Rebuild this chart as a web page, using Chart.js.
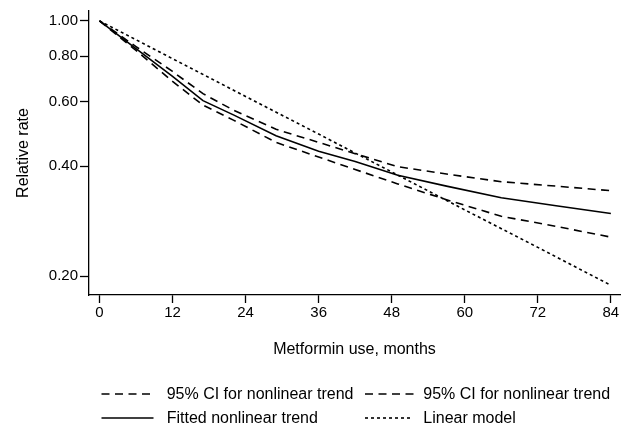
<!DOCTYPE html>
<html>
<head>
<meta charset="utf-8">
<script src="https://cdn.jsdelivr.net/npm/chart.js@4.4.1/dist/chart.umd.min.js"></script>
<style>
  html, body { margin: 0; padding: 0; background: #fff; }
  #wrap { width: 632px; height: 431px; }
</style>
</head>
<body>
<div id="wrap"><canvas id="rrChart" width="632" height="431"></canvas></div>
<script>
// values (relative rate, log scale)
const months = [0, 6, 12, 17, 22, 29, 36, 42, 49, 57, 66, 75, 84];
const fittedTrend = [1.0, 0.84, 0.705, 0.605, 0.553, 0.485, 0.44, 0.412, 0.378, 0.353, 0.328, 0.312, 0.297];
const upperCI = [1.0, 0.85, 0.727, 0.632, 0.57, 0.505, 0.465, 0.433, 0.399, 0.381, 0.363, 0.353, 0.343];
const lowerCI = [1.0, 0.83, 0.683, 0.588, 0.535, 0.465, 0.424, 0.392, 0.358, 0.324, 0.292, 0.274, 0.256];
const linearMonths = [0, 12, 24, 36, 48, 60, 72, 84];
const linearModel = [1.0, 0.788, 0.621, 0.49, 0.386, 0.304, 0.24, 0.189];

const xTicks = [0, 12, 24, 36, 48, 60, 72, 84];
const yTicks = [0.2, 0.4, 0.6, 0.8, 1.0];

const FONT = "'Liberation Sans', Arial, Helvetica, sans-serif";
const CI_DASH = [8, 5.5];
const DOT_DASH = [3, 3];

function pts(xs, ys) {
  return xs.map((x, i) => ({ x: x, y: ys[i] }));
}

// legend drawn under the axis title, two columns like the original
const legendPlugin = {
  id: 'bottomLegend',
  afterDraw(chart) {
    const ctx = chart.ctx;
    const cols = [101.5, 365];
    const rows = [394, 418];
    const lens = [52, 52, 52, 48];
    ctx.save();
    ctx.font = '16px ' + FONT;
    ctx.fillStyle = '#000';
    ctx.textBaseline = 'middle';
    chart.data.datasets.forEach((ds, k) => {
      const x = cols[k % 2];
      const y = rows[Math.floor(k / 2)];
      ctx.beginPath();
      ctx.setLineDash(ds.borderDash || []);
      ctx.lineWidth = ds.borderWidth;
      ctx.strokeStyle = ds.borderColor;
      ctx.moveTo(x, y);
      ctx.lineTo(x + lens[k], y);
      ctx.stroke();
      ctx.setLineDash([]);
      ctx.fillText(ds.label, x + (k % 2 ? 58.3 : 65.2), y + 1);
    });
    ctx.restore();
  }
};

const ctx = document.getElementById('rrChart').getContext('2d');

const rrChart = new Chart(ctx, {
  type: 'line',
  data: {
    datasets: [
      {
        label: '95% CI for nonlinear trend',
        data: pts(months, upperCI),
        borderColor: '#000',
        borderWidth: 1.6,
        borderDash: CI_DASH,
        pointRadius: 0,
        fill: false,
        tension: 0
      },
      {
        label: '95% CI for nonlinear trend',
        data: pts(months, lowerCI),
        borderColor: '#000',
        borderWidth: 1.6,
        borderDash: CI_DASH,
        pointRadius: 0,
        fill: false,
        tension: 0
      },
      {
        label: 'Fitted nonlinear trend',
        data: pts(months, fittedTrend),
        borderColor: '#000',
        borderWidth: 1.6,
        pointRadius: 0,
        fill: false,
        tension: 0
      },
      {
        label: 'Linear model',
        data: pts(linearMonths, linearModel),
        borderColor: '#000',
        borderWidth: 1.6,
        borderDash: DOT_DASH,
        pointRadius: 0,
        fill: false,
        tension: 0
      }
    ]
  },
  options: {
    responsive: false,
    animation: false,
    devicePixelRatio: 1,
    layout: {
      padding: { left: 0, top: 7, right: 12, bottom: 72 }
    },
    plugins: {
      legend: { display: false },
      tooltip: { enabled: false }
    },
    scales: {
      x: {
        type: 'linear',
        min: -1.72,
        max: 85.5,
        afterBuildTicks: (scale) => {
          scale.ticks = xTicks.map(v => ({ value: v }));
        },
        afterFit: (scale) => { scale.height = 64; },
        grid: {
          drawOnChartArea: false,
          drawTicks: true,
          tickLength: 8,
          tickWidth: 1.3,
          tickColor: '#000'
        },
        border: { display: true, color: '#000', width: 1.3 },
        ticks: {
          color: '#000',
          padding: 1,
          maxRotation: 0,
          font: { family: FONT, size: 15 }
        },
        title: {
          display: true,
          text: 'Metformin use, months',
          color: '#000',
          padding: { top: 0, bottom: 0 },
          font: { family: FONT, size: 16 }
        }
      },
      y: {
        type: 'logarithmic',
        min: 0.1778,
        max: 1.064,
        afterBuildTicks: (scale) => {
          scale.ticks = yTicks.map(v => ({ value: v }));
        },
        afterFit: (scale) => { scale.width = 89; },
        grid: {
          drawOnChartArea: false,
          drawTicks: true,
          tickLength: 9,
          tickWidth: 1.3,
          tickColor: '#000'
        },
        border: { display: true, color: '#000', width: 1.3 },
        ticks: {
          color: '#000',
          padding: 2,
          font: { family: FONT, size: 15 },
          callback: (v) => Number(v).toFixed(2)
        },
        title: {
          display: true,
          text: 'Relative rate',
          color: '#000',
          padding: { top: 14, bottom: 0 },
          font: { family: FONT, size: 16 }
        }
      }
    }
  },
  plugins: [legendPlugin]
});
</script>
</body>
</html>
